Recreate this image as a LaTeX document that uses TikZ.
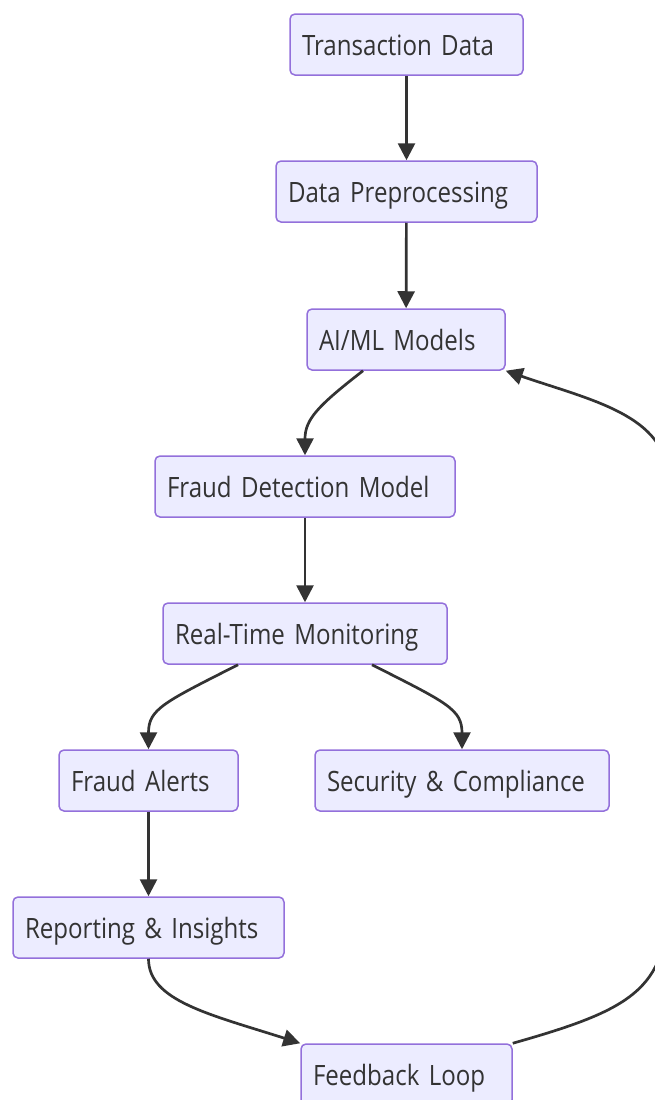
\documentclass[tikz,border=0pt]{standalone}
\usepackage{fontspec}
\setmainfont{Open Sans}[FakeStretch=0.86, WordSpace=0.75]
\usepackage{xcolor}
\usepackage{tikz}
\usetikzlibrary{arrows.meta}

\definecolor{boxfill}{HTML}{ECECFF}
\definecolor{boxline}{HTML}{9370DB}
\definecolor{ink}{HTML}{333333}

\begin{document}
\begin{tikzpicture}[
        x=1pt, y=-1pt,
        box/.style={draw=boxline, fill=boxfill, line width=1.5pt,
            rounded corners=5pt, minimum height=61pt, inner ysep=0pt,
            inner xsep=12pt, align=left, text=ink,
            text height=26pt, text depth=4pt,
            font=\fontsize{28}{32}\selectfont},
        flow/.style={draw=ink, line width=2.7pt,
            -{Triangle[length=17pt, width=17pt]}},
    ]
    \useasboundingbox (0,0) rectangle (654,1100);

    % boxes
    \node[box, text width=209pt] (trans) at (406.5,44.5) {Transaction Data};
    \node[box, text width=237pt] (prep) at (406.5,191.5) {Data Preprocessing};
    \node[box, text width=174pt] (aiml) at (406,339.5) {AI/ML Models};
    \node[box, text width=276pt] (detect) at (305,486.5) {Fraud Detection Model};
    \node[box, text width=260pt] (monitor) at (305,633.5) {Real-Time Monitoring};
    \node[box, text width=155pt] (alerts) at (148.5,780.5) {Fraud Alerts};
    \node[box, text width=270pt] (secure) at (462,780.5) {Security \& Compliance};
    \node[box, text width=247pt] (report) at (148.5,927.5) {Reporting \& Insights};
    \node[box, text width=187pt] (feedback) at (406.5,1074.5) {Feedback Loop};

    % straight links
    \draw[flow] (trans) -- (prep);
    \draw[flow] (prep) -- (aiml);
    \draw[flow] (detect) -- (monitor);
    \draw[flow] (alerts) -- (report);

    % bent links
    \draw[flow] ([xshift=-43pt]aiml.south) .. controls +(-45,35) and +(0,-36) .. (detect.north);
    \draw[flow] ([xshift=-67pt]monitor.south) .. controls +(-75,38) and +(0,-40) .. (alerts.north);
    \draw[flow] ([xshift=67pt]monitor.south) .. controls +(75,38) and +(0,-40) .. (secure.north);
    \draw[flow] (report.south) .. controls +(0,42) and +(-91,-29) .. (feedback.north west);

    % loop back to the models
    \draw[flow] (feedback.north east) .. controls (630,1010) and (668,990) .. (668,900)
        -- (668,480) .. controls (668,415) and (590,400) .. (aiml.south east);
\end{tikzpicture}
\end{document}
